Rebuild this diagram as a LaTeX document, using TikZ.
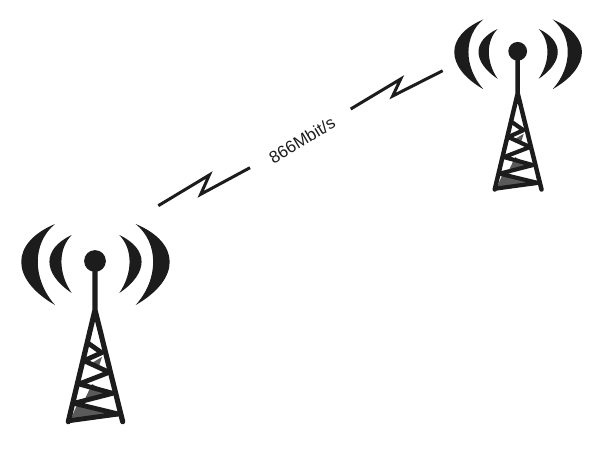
\documentclass[tikz,border=0pt]{standalone}
\usepackage{fontspec}
\setmainfont{Liberation Sans}
\definecolor{towerblack}{HTML}{1C1C1C}
\definecolor{towergrey}{HTML}{5A5A5A}
\tikzset{
  bolt/.style={draw=towerblack, line width=3pt, line join=miter},
  wave/.style={fill=towerblack, draw=none},
  rate/.style={font=\fontsize{17}{20}\selectfont, text=towerblack, rotate=31},
}
\newcommand{\tower}[4]{
\begin{scope}[shift={(#2,#3)}, scale=#4]
\fill[towergrey] (-18,144) -- (-25,160) -- (26,155) -- cycle;
\fill[towergrey] (-3,123) -- (-11,140) -- (13,132) -- cycle;
\fill[towergrey] (7,96) -- (-5,103) -- (3,108) -- cycle;
\draw[towerblack, line width=#4*5.2pt, line cap=round, line join=round]
  (0,0) -- (0,49) (-26.7,160.7) -- (0,49) -- (27.7,160.7);
\draw[towerblack, line width=#4*4.8pt, line join=round]
  (-6.7,82.3) -- (6.7,91.7) -- (-11,99.7) -- (14.3,111.3) -- (-16,123)
  -- (17.7,132.3) -- (-21,142.3) -- (23.3,153) -- (-25.7,159.7);
\fill[towerblack] (0,0) circle (10.9);
\path[wave] (-40,-37) .. controls (-85,-18) and (-85,18) .. (-40,44)
  .. controls (-63,18) and (-63,-18) .. cycle;
\path[wave] (-23.3,-26) .. controls (-53,-12) and (-53,12) .. (-23.3,32)
  .. controls (-37,12) and (-37,-12) .. cycle;
\path[wave] (40.7,-37) .. controls (86,-18) and (86,18) .. (40.7,44)
  .. controls (64,18) and (64,-18) .. cycle;
\path[wave] (24.3,-26) .. controls (54,-12) and (54,12) .. (24.3,32)
  .. controls (38,12) and (38,-12) .. cycle;
\coordinate (#1) at (0,0);
\end{scope}
}
\begin{document}
\begin{tikzpicture}[x=1pt, y=-1pt]
\useasboundingbox (0,0) rectangle (600,450);
\tower{LeftTower}{95}{261}{1}
\tower{RightTower}{517.7}{51.3}{0.86}

\node (Rate) [rate] at (302,140) {866Mbit/s};

\coordinate (LowA) at (158.3,205.7);
\coordinate (LowB) at (209.3,175);
\coordinate (LowC) at (200.7,194.3);
\coordinate (LowD) at (250,167.7);
\coordinate (HighA) at (350.7,109);
\coordinate (HighB) at (400.7,79);
\coordinate (HighC) at (392.7,96);
\coordinate (HighD) at (442.7,70.7);

\draw[bolt] (LowA) -- (LowB) -- (LowC) -- (LowD);
\draw[bolt] (HighA) -- (HighB) -- (HighC) -- (HighD);
\end{tikzpicture}
\end{document}
